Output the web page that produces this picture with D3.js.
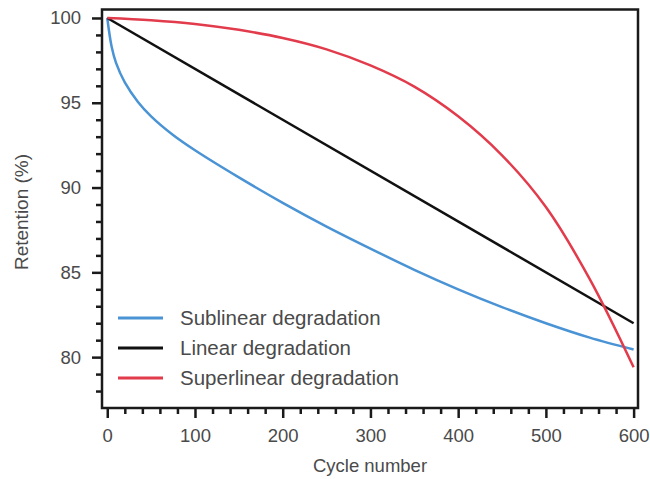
<!DOCTYPE html>
<html>
<head>
<meta charset="utf-8">
<script src="https://cdnjs.cloudflare.com/ajax/libs/d3/7.8.5/d3.min.js"></script>
<style>
  body { margin: 0; background: #fff; }
  svg text { font-family: "Liberation Sans", Arial, sans-serif; fill: #4a4a4a; }
</style>
</head>
<body>
<svg id="chart" width="650" height="479"></svg>
<script>
// values
var cycles = [0, 5, 10, 20, 35, 50, 75, 100, 150, 200, 250, 300, 350, 400, 450, 500, 550, 600]
var sublinear = [100, 98.3, 97.35, 96.2, 95.05, 94.2, 93.1, 92.2, 90.6, 89.1, 87.7, 86.4, 85.15, 84.0, 82.95, 82.0, 81.15, 80.45]

var linCycles = [0, 600]
var linear = [100, 82]

var supCycles = [0, 50, 100, 150, 200, 250, 300, 350, 400, 450, 500, 550, 600]
var superlinear = [100, 99.87, 99.65, 99.3, 98.82, 98.15, 97.2, 95.95, 94.2, 91.9, 88.85, 84.6, 79.4]

var xMajor = [0, 100, 200, 300, 400, 500, 600]
var yMajor = [80, 85, 90, 95, 100]

var seriesNames = ["Sublinear degradation", "Linear degradation", "Superlinear degradation"]
var colors = ["#4a93d4", "#111111", "#e23b4b"]

var svg = d3.select("#chart")

var x = d3.scaleLinear().domain([-6, 605]).range([102, 638])
var y = d3.scaleLinear().domain([77, 100.5]).range([408, 9.5])

var data = [
    cycles.map((c, i) => [c, sublinear[i]]),
    linCycles.map((c, i) => [c, linear[i]]),
    supCycles.map((c, i) => [c, superlinear[i]])
]

var line = d3.line()
    .x(d => x(d[0]))
    .y(d => y(d[1]))
    .curve(d3.curveCatmullRom.alpha(0.5))

// curves
svg.append("g")
    .selectAll("path")
    .data(data)
    .enter()
    .append("path")
    .attr("d", d => line(d))
    .attr("fill", "none")
    .attr("stroke", (d, i) => colors[i])
    .attr("stroke-width", 2.5)

// frame
svg.append("rect")
    .attr("x", 102)
    .attr("y", 9.5)
    .attr("width", 536)
    .attr("height", 398.5)
    .attr("fill", "none")
    .attr("stroke", "#1a1a1a")
    .attr("stroke-width", 2.5)

// minor ticks
var xMinor = d3.range(0, 601, 20).filter(v => v % 100 != 0)
var yMinor = d3.range(78, 100, 1).filter(v => v % 5 != 0)

var xAxisMinor = d3.axisBottom(x).tickValues(xMinor).tickSize(6).tickFormat("")
var yAxisMinor = d3.axisLeft(y).tickValues(yMinor).tickSize(6).tickFormat("")
var xAxis = d3.axisBottom(x).tickValues(xMajor).tickSize(10).tickPadding(11)
var yAxis = d3.axisLeft(y).tickValues(yMajor).tickSize(10).tickPadding(11)

function styleAxis(g) {
    g.select(".domain").remove()
    g.selectAll("line").attr("stroke", "#1a1a1a").attr("stroke-width", 2.5)
    g.selectAll("text").attr("font-size", 18.5).attr("fill", "#4a4a4a")
}

svg.append("g").attr("transform", "translate(0,408)").call(xAxisMinor).call(styleAxis)
svg.append("g").attr("transform", "translate(0,408)").call(xAxis).call(styleAxis)
svg.append("g").attr("transform", "translate(102,0)").call(yAxisMinor).call(styleAxis)
svg.append("g").attr("transform", "translate(102,0)").call(yAxis).call(styleAxis)

// axis titles
svg.append("text")
    .attr("x", 370)
    .attr("y", 472)
    .attr("text-anchor", "middle")
    .attr("font-size", 18.5)
    .text("Cycle number")

svg.append("text")
    .attr("transform", "translate(28,212) rotate(-90)")
    .attr("text-anchor", "middle")
    .attr("font-size", 19)
    .text("Retention (%)")

// legend
var legend = svg.append("g")
    .selectAll("g")
    .data(seriesNames)
    .enter()
    .append("g")
    .attr("transform", (d, i) => "translate(118," + (318 + i * 30) + ")")

legend.append("line")
    .attr("x1", 0)
    .attr("x2", 45)
    .attr("stroke", (d, i) => colors[i])
    .attr("stroke-width", 3)

legend.append("text")
    .attr("x", 62)
    .attr("dy", "0.35em")
    .attr("font-size", 20.5)
    .text(d => d)
</script>
</body>
</html>
